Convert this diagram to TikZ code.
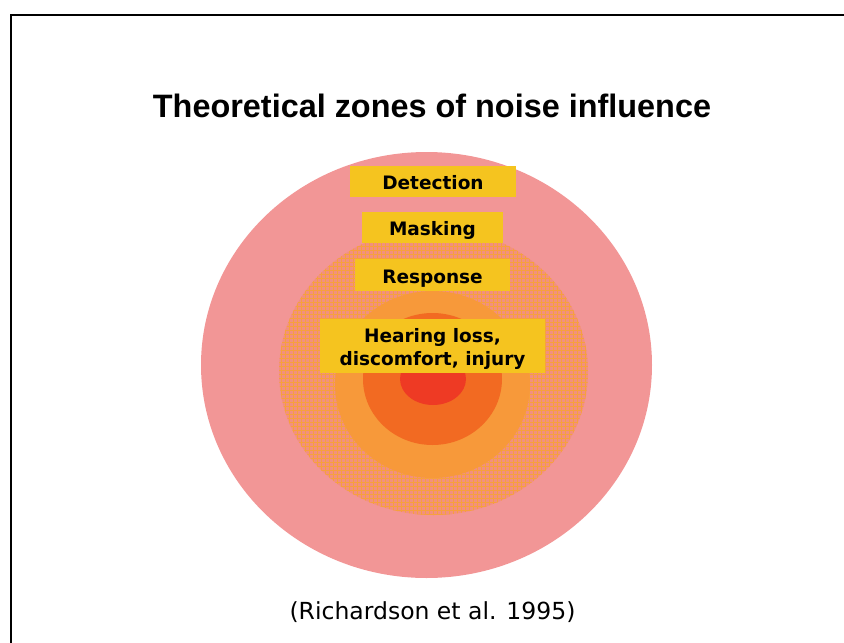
\documentclass[tikz,border=0pt]{standalone}
\usepackage{fontspec}
\setmainfont{DejaVu Sans}
\newfontfamily\titlefont{Liberation Sans}
\definecolor{pinkz}{HTML}{F29696}
\definecolor{hatchbase}{HTML}{F2907E}
\definecolor{hatchline}{HTML}{F6A03E}
\definecolor{lightor}{HTML}{F7993A}
\definecolor{darkor}{HTML}{F26A22}
\definecolor{redz}{HTML}{EE3A24}
\definecolor{yellowz}{HTML}{F5C41F}
\tikzset{
  lab/.style={fill=yellowz, font=\bfseries\fontsize{18.5}{22.5}\selectfont, inner sep=0pt, align=center},
  onelab/.style={lab, text height=16pt, text depth=0pt},
}
\begin{document}
\begin{tikzpicture}[x=1pt,y=-1pt]
\useasboundingbox (0,0) rectangle (844,643);
% frame
\draw[line width=2.2pt] (11,643) -- (11,15) -- (844,15);
% title
\node[font=\titlefont\bfseries\fontsize{32.4}{38}\selectfont, anchor=base] (title) at (432,117) {Theoretical zones of noise influence};
% zones
\fill[pinkz] (426.5,365) ellipse [x radius=225.5, y radius=213];
\begin{scope}
  \clip (433.5,371.5) ellipse [x radius=154.5, y radius=143.5];
  \fill[hatchbase] (275,225) rectangle (592,518);
  \foreach \i in {0,4,...,320} {
    \draw[hatchline, line width=1pt] (277+\i,225) -- (277+\i,518);
    \draw[hatchline, line width=1pt] (275,226+\i) -- (592,226+\i);
  }
\end{scope}
\fill[lightor] (432.5,384.5) ellipse [x radius=97.5, y radius=93.5];
\fill[darkor] (432.5,379) ellipse [x radius=69.5, y radius=66];
\fill[redz] (433,379) ellipse [x radius=33, y radius=26];
% labels
\node[onelab, minimum width=166pt, minimum height=31pt] (det) at (433,181.5) {Detection};
\node[onelab, minimum width=141pt, minimum height=31pt] (mask) at (432.5,227.5) {Masking};
\node[onelab, minimum width=155pt, minimum height=32pt] (resp) at (432.5,275) {Response};
\node[lab, minimum width=225pt, minimum height=54pt] (hear) at (432.5,346) {\rule{0pt}{20pt}Hearing loss,\\discomfort, injury};
% citation
\node[font=\fontsize{23.5}{28}\selectfont, anchor=base] (cite) at (432.5,619) {(Richardson et al. 1995)};
\end{tikzpicture}
\end{document}
